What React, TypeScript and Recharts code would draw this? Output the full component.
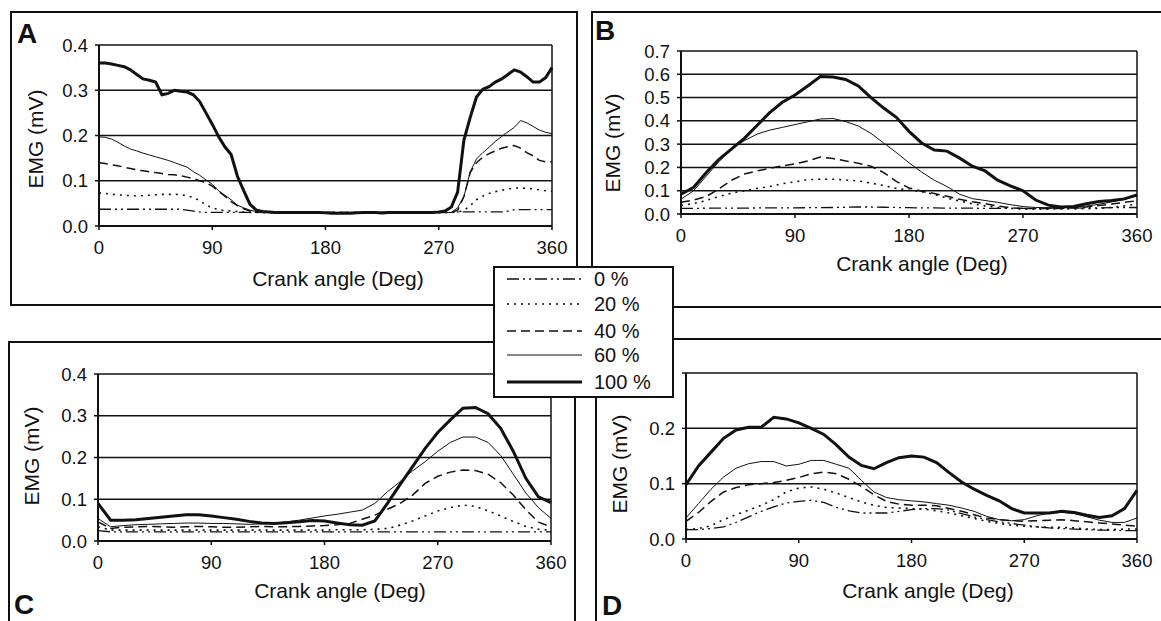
import React from "react";
import { LineChart, Line, XAxis, YAxis, CartesianGrid, ReferenceLine } from "recharts";

// crank angle categories (deg)
const anglesA = [
  0, 5, 10, 15, 20, 25, 30, 35, 40, 45, 50, 55, 60, 65, 70, 75, 80, 85, 90, 95, 100, 105, 110, 115, 120,
  125, 130, 135, 140, 145, 150, 155, 160, 165, 170, 175, 180, 185, 190, 195, 200, 205, 210, 215, 220, 225,
  230, 235, 240, 245, 250, 255, 260, 265, 270, 275, 280, 285, 290, 295, 300, 305, 310, 315, 320, 325, 330,
  335, 340, 345, 350, 355, 360,
];
const angles = [
  0, 10, 20, 30, 40, 50, 60, 70, 80, 90, 100, 110, 120, 130, 140, 150, 160, 170, 180, 190, 200, 210, 220,
  230, 240, 250, 260, 270, 280, 290, 300, 310, 320, 330, 340, 350, 360,
];
const xTicks = [0, 90, 180, 270, 360];

const loadNames = ["0 %", "20 %", "40 %", "60 %", "100 %"];
const loadKeys = ["l0", "l20", "l40", "l60", "l100"];

// panel A (EMG, mV)
const a0 = [
  0.037, 0.037, 0.037, 0.037, 0.037, 0.037, 0.037, 0.037, 0.037, 0.037, 0.037, 0.037, 0.037, 0.037, 0.035,
  0.033, 0.031, 0.03, 0.03, 0.03, 0.03, 0.03, 0.03, 0.03, 0.03, 0.03, 0.03, 0.03, 0.03, 0.03, 0.03, 0.03,
  0.03, 0.03, 0.03, 0.03, 0.03, 0.03, 0.03, 0.03, 0.03, 0.03, 0.03, 0.03, 0.03, 0.03, 0.03, 0.03, 0.03,
  0.03, 0.03, 0.03, 0.03, 0.03, 0.03, 0.03, 0.03, 0.031, 0.031, 0.031, 0.031, 0.031, 0.031, 0.031, 0.031,
  0.033, 0.036, 0.036, 0.036, 0.036, 0.036, 0.036, 0.036,
];
const a20 = [
  0.073, 0.072, 0.07, 0.069, 0.068, 0.067, 0.067, 0.067, 0.068, 0.069, 0.07, 0.07, 0.07, 0.069, 0.067,
  0.063, 0.056, 0.047, 0.04, 0.036, 0.034, 0.033, 0.032, 0.031, 0.03, 0.03, 0.03, 0.03, 0.03, 0.03, 0.03,
  0.03, 0.03, 0.03, 0.03, 0.03, 0.03, 0.03, 0.03, 0.03, 0.03, 0.03, 0.03, 0.03, 0.03, 0.03, 0.03, 0.03,
  0.03, 0.03, 0.03, 0.03, 0.03, 0.03, 0.03, 0.03, 0.03, 0.031, 0.034, 0.045, 0.058, 0.066, 0.072, 0.076,
  0.079, 0.082, 0.084, 0.084, 0.083, 0.082, 0.08, 0.078, 0.077,
];
const a40 = [
  0.14, 0.138, 0.135, 0.133, 0.13, 0.127, 0.124, 0.122, 0.12, 0.118, 0.116, 0.114, 0.113, 0.111, 0.108,
  0.105, 0.1, 0.096, 0.088, 0.077, 0.066, 0.054, 0.045, 0.038, 0.033, 0.031, 0.03, 0.03, 0.03, 0.03, 0.03,
  0.03, 0.03, 0.03, 0.03, 0.03, 0.03, 0.03, 0.03, 0.03, 0.03, 0.03, 0.03, 0.03, 0.03, 0.03, 0.03, 0.03,
  0.03, 0.03, 0.03, 0.03, 0.03, 0.03, 0.03, 0.03, 0.03, 0.035, 0.065, 0.118, 0.14, 0.152, 0.16, 0.166,
  0.172, 0.175, 0.178, 0.172, 0.162, 0.155, 0.145, 0.142, 0.142,
];
const a60 = [
  0.197, 0.196, 0.192, 0.185, 0.177, 0.17, 0.166, 0.161, 0.157, 0.153, 0.149, 0.145, 0.14, 0.135, 0.13,
  0.12, 0.112, 0.102, 0.092, 0.078, 0.068, 0.058, 0.046, 0.04, 0.035, 0.032, 0.03, 0.03, 0.03, 0.03, 0.03,
  0.03, 0.03, 0.03, 0.03, 0.03, 0.03, 0.03, 0.03, 0.03, 0.03, 0.03, 0.03, 0.03, 0.03, 0.03, 0.03, 0.03,
  0.03, 0.03, 0.03, 0.03, 0.03, 0.03, 0.03, 0.03, 0.03, 0.04, 0.065, 0.12, 0.148, 0.162, 0.174, 0.187,
  0.198, 0.208, 0.218, 0.233, 0.228, 0.22, 0.212, 0.207, 0.204,
];
const a100 = [
  0.36, 0.36, 0.358, 0.355, 0.352, 0.345, 0.335, 0.325, 0.322, 0.318, 0.29, 0.293, 0.3, 0.298, 0.296, 0.29,
  0.275, 0.25, 0.225, 0.198, 0.175, 0.158, 0.11, 0.078, 0.048, 0.035, 0.032, 0.031, 0.03, 0.03, 0.03, 0.03,
  0.03, 0.03, 0.03, 0.03, 0.029, 0.028, 0.028, 0.028, 0.028, 0.029, 0.03, 0.03, 0.03, 0.029, 0.03, 0.03,
  0.03, 0.03, 0.03, 0.03, 0.03, 0.03, 0.031, 0.033, 0.042, 0.075, 0.19, 0.24, 0.285, 0.302, 0.308, 0.318,
  0.325, 0.335, 0.345, 0.34, 0.33, 0.318, 0.318, 0.328, 0.35,
];

// panel B
const b0 = [
  0.024, 0.024, 0.025, 0.025, 0.025, 0.025, 0.026, 0.026, 0.026, 0.026, 0.027, 0.027, 0.028, 0.029, 0.03,
  0.03, 0.029, 0.028, 0.027, 0.026, 0.026, 0.025, 0.025, 0.025, 0.024, 0.024, 0.024, 0.024, 0.024, 0.025,
  0.025, 0.025, 0.026, 0.026, 0.027, 0.028, 0.028,
];
const b20 = [
  0.036, 0.045, 0.058, 0.075, 0.09, 0.1, 0.11, 0.118, 0.13, 0.138, 0.147, 0.15, 0.149, 0.146, 0.142, 0.133,
  0.122, 0.11, 0.102, 0.096, 0.084, 0.068, 0.056, 0.044, 0.035, 0.028, 0.024, 0.021, 0.021, 0.021, 0.022,
  0.022, 0.023, 0.024, 0.028, 0.035, 0.043,
];
const b40 = [
  0.05, 0.06, 0.075, 0.108, 0.145, 0.172, 0.185, 0.196, 0.207, 0.215, 0.228, 0.245, 0.238, 0.228, 0.218,
  0.205, 0.178, 0.14, 0.112, 0.098, 0.088, 0.076, 0.063, 0.053, 0.045, 0.034, 0.027, 0.024, 0.024, 0.024,
  0.024, 0.026, 0.03, 0.036, 0.043, 0.05, 0.057,
];
const b60 = [
  0.064, 0.1, 0.163, 0.225, 0.28, 0.315, 0.343, 0.36, 0.372, 0.384, 0.396, 0.408, 0.41, 0.397, 0.378, 0.346,
  0.305, 0.264, 0.22, 0.18, 0.145, 0.118, 0.085, 0.066, 0.058, 0.05, 0.04, 0.032, 0.028, 0.027, 0.028, 0.03,
  0.034, 0.042, 0.052, 0.062, 0.078,
];
const b100 = [
  0.085, 0.115, 0.178, 0.235, 0.28, 0.325, 0.38, 0.435, 0.48, 0.511, 0.55, 0.59, 0.588, 0.578, 0.55, 0.5,
  0.455, 0.415, 0.355, 0.305, 0.275, 0.27, 0.24, 0.205, 0.185, 0.145, 0.121, 0.1, 0.06, 0.038, 0.03, 0.032,
  0.044, 0.054, 0.058, 0.065, 0.082,
];

// panel C
const c0 = [
  0.025, 0.022, 0.022, 0.022, 0.022, 0.022, 0.022, 0.022, 0.022, 0.022, 0.022, 0.022, 0.022, 0.022, 0.022,
  0.022, 0.022, 0.022, 0.022, 0.022, 0.022, 0.022, 0.022, 0.022, 0.022, 0.022, 0.022, 0.022, 0.022, 0.022,
  0.022, 0.022, 0.022, 0.022, 0.022, 0.022, 0.022,
];
const c20 = [
  0.034, 0.026, 0.026, 0.026, 0.026, 0.026, 0.026, 0.026, 0.026, 0.026, 0.026, 0.026, 0.026, 0.026, 0.026,
  0.026, 0.026, 0.026, 0.026, 0.027, 0.027, 0.027, 0.028, 0.03, 0.038, 0.048, 0.06, 0.072, 0.08, 0.086,
  0.083, 0.072, 0.06, 0.047, 0.035, 0.028, 0.026,
];
const c40 = [
  0.046, 0.03, 0.033, 0.034, 0.035, 0.034, 0.033, 0.034, 0.035, 0.034, 0.033, 0.033, 0.034, 0.035, 0.034,
  0.034, 0.035, 0.036, 0.037, 0.039, 0.042, 0.052, 0.062, 0.076, 0.09, 0.11, 0.138, 0.155, 0.165, 0.17,
  0.169, 0.16, 0.14, 0.11, 0.075, 0.045, 0.034,
];
const c60 = [
  0.054, 0.034, 0.037, 0.039, 0.04, 0.041, 0.042, 0.043, 0.043, 0.042, 0.042, 0.041, 0.04, 0.041, 0.043,
  0.046, 0.05, 0.055, 0.06, 0.064, 0.069, 0.074, 0.09, 0.118, 0.142, 0.168, 0.19, 0.215, 0.236, 0.249,
  0.249, 0.236, 0.205, 0.16, 0.115, 0.08, 0.054,
];
const c100 = [
  0.09, 0.05, 0.05, 0.051, 0.054, 0.057, 0.06, 0.063, 0.063, 0.06, 0.056, 0.052, 0.047, 0.043, 0.042,
  0.044, 0.046, 0.049, 0.048, 0.043, 0.039, 0.038, 0.048, 0.09, 0.135, 0.178, 0.222, 0.26, 0.29, 0.318,
  0.32, 0.305, 0.27, 0.215, 0.15, 0.106, 0.092,
];

// panel D
const d0 = [
  0.017, 0.017, 0.019, 0.022, 0.03, 0.04, 0.05, 0.058, 0.065, 0.068, 0.07, 0.066, 0.057, 0.051, 0.047,
  0.047, 0.047, 0.05, 0.053, 0.055, 0.055, 0.052, 0.046, 0.04, 0.035, 0.031, 0.028, 0.025, 0.022, 0.02,
  0.019, 0.018, 0.017, 0.016, 0.016, 0.015, 0.015,
];
const d20 = [
  0.017, 0.019, 0.024, 0.035, 0.044, 0.052, 0.061, 0.071, 0.085, 0.092, 0.094, 0.09, 0.083, 0.075, 0.067,
  0.061, 0.057, 0.056, 0.055, 0.054, 0.051, 0.047, 0.042, 0.037, 0.032, 0.028, 0.025, 0.023, 0.022, 0.021,
  0.021, 0.02, 0.018, 0.017, 0.017, 0.018, 0.018,
];
const d40 = [
  0.032, 0.048, 0.068, 0.085, 0.093, 0.098, 0.1, 0.102, 0.106, 0.111, 0.118, 0.121, 0.118, 0.108, 0.095,
  0.08, 0.068, 0.063, 0.061, 0.061, 0.06, 0.055, 0.05, 0.044, 0.038, 0.035, 0.033, 0.032, 0.033, 0.034,
  0.035, 0.033, 0.031, 0.029, 0.027, 0.025, 0.023,
];
const d60 = [
  0.038, 0.064, 0.09, 0.112, 0.128, 0.136, 0.14, 0.14, 0.132, 0.135, 0.142, 0.142, 0.135, 0.128, 0.106,
  0.085, 0.075, 0.071, 0.069, 0.067, 0.064, 0.061, 0.056, 0.05, 0.041, 0.035, 0.033, 0.035, 0.042, 0.047,
  0.048, 0.046, 0.04, 0.034, 0.03, 0.03, 0.038,
];
const d100 = [
  0.098, 0.132, 0.157, 0.182, 0.197, 0.202, 0.202, 0.22, 0.217, 0.21, 0.2, 0.189, 0.17, 0.148, 0.133, 0.127,
  0.138, 0.147, 0.15, 0.148, 0.138, 0.12, 0.103, 0.09, 0.079, 0.069, 0.055, 0.047, 0.047, 0.047, 0.05,
  0.048, 0.043, 0.039, 0.042, 0.055, 0.088,
];

const INK = "#111";
const FONT = "'Liberation Sans', Arial, Helvetica, sans-serif";

const lineStyle: Record<string, { dash?: string; width: number }> = {
  l0: { dash: "12 4 2 4 2 4", width: 1.3 },
  l20: { dash: "2 5", width: 1.6 },
  l40: { dash: "9 5", width: 1.5 },
  l60: { width: 1 },
  l100: { width: 3 },
};

function buildRows(xs: number[], series: number[][]) {
  return xs.map((angle, i) => {
    const row: Record<string, number> = { angle };
    loadKeys.forEach((k, j) => {
      row[k] = series[j][i];
    });
    return row;
  });
}

type PanelProps = {
  data: Record<string, number>[];
  left: number;
  top: number;
  width: number;
  height: number;
  marginTop: number;
  marginRight: number;
  yAxisWidth: number;
  xAxisHeight: number;
  yMax: number;
  yTicks: number[];
  hideTopLabel?: boolean;
};

function Panel(p: PanelProps) {
  return (
    <div style={{ position: "absolute", left: p.left, top: p.top }}>
      <LineChart
        width={p.width}
        height={p.height}
        data={p.data}
        margin={{ top: p.marginTop, right: p.marginRight, left: 0, bottom: 0 }}
      >
        <CartesianGrid vertical={false} stroke={INK} strokeWidth={1.5} />
        <XAxis
          dataKey="angle"
          type="number"
          domain={[0, 360]}
          ticks={xTicks}
          height={p.xAxisHeight}
          tickSize={4}
          tickMargin={11}
          axisLine={{ stroke: INK, strokeWidth: 2 }}
          tickLine={{ stroke: INK, strokeWidth: 1.5 }}
          tick={{ fill: INK, fontSize: 18.5, fontFamily: FONT }}
        />
        <YAxis
          type="number"
          domain={[0, p.yMax]}
          ticks={p.yTicks}
          interval={0}
          width={p.yAxisWidth}
          tickSize={4}
          tickMargin={7}
          axisLine={{ stroke: INK, strokeWidth: 2 }}
          tickLine={{ stroke: INK, strokeWidth: 1.5 }}
          tick={{ fill: INK, fontSize: 18.5, fontFamily: FONT }}
          tickFormatter={(v: number) => (p.hideTopLabel && v >= p.yMax ? "" : v.toFixed(1))}
        />
        <ReferenceLine x={360} stroke={INK} strokeWidth={1.5} />
        {loadKeys.map((k) => (
          <Line
            key={k}
            type="linear"
            dataKey={k}
            stroke={INK}
            strokeWidth={lineStyle[k].width}
            strokeDasharray={lineStyle[k].dash}
            dot={false}
            isAnimationActive={false}
          />
        ))}
      </LineChart>
    </div>
  );
}

const boxStyle = (left: number, top: number, width: number, height: number): React.CSSProperties => ({
  position: "absolute",
  left,
  top,
  width,
  height,
  border: `2px solid ${INK}`,
  boxSizing: "border-box",
});

const letters = [
  { t: "A", x: 17, y: 43 },
  { t: "B", x: 595, y: 40 },
  { t: "C", x: 14, y: 614 },
  { t: "D", x: 602, y: 615 },
];
const yTitles = [
  { x: 36, y: 139 },
  { x: 613, y: 143 },
  { x: 32, y: 456 },
  { x: 620, y: 464 },
];
const xTitles = [
  { x: 338, y: 286 },
  { x: 922, y: 271 },
  { x: 340, y: 598 },
  { x: 928, y: 598 },
];
const legendRows = [279, 304, 331, 355, 382];

export default function App() {
  const dataA = buildRows(anglesA, [a0, a20, a40, a60, a100]);
  const dataB = buildRows(angles, [b0, b20, b40, b60, b100]);
  const dataC = buildRows(angles, [c0, c20, c40, c60, c100]);
  const dataD = buildRows(angles, [d0, d20, d40, d60, d100]);

  return (
    <div
      style={{
        position: "absolute",
        left: 0,
        top: 0,
        width: 1161,
        height: 621,
        overflow: "hidden",
        background: "#fff",
        fontFamily: FONT,
      }}
    >
      <div style={boxStyle(10, 11, 568, 295)} />
      <div style={boxStyle(591, 11, 580, 297)} />
      <div style={boxStyle(8, 341, 568, 300)} />
      <div style={boxStyle(595, 338, 580, 300)} />

      <Panel data={dataA} left={0} top={0} width={580} height={310} marginTop={45} marginRight={28}
        yAxisWidth={99} xAxisHeight={84} yMax={0.4} yTicks={[0, 0.1, 0.2, 0.3, 0.4]} />
      <Panel data={dataB} left={590} top={0} width={571} height={310} marginTop={51} marginRight={24}
        yAxisWidth={91} xAxisHeight={96} yMax={0.7} yTicks={[0, 0.1, 0.2, 0.3, 0.4, 0.5, 0.6, 0.7]} />
      <Panel data={dataC} left={0} top={330} width={580} height={291} marginTop={44} marginRight={29}
        yAxisWidth={98} xAxisHeight={80} yMax={0.4} yTicks={[0, 0.1, 0.2, 0.3, 0.4]} />
      <Panel data={dataD} left={590} top={330} width={571} height={291} marginTop={43} marginRight={24}
        yAxisWidth={96} xAxisHeight={82} yMax={0.3} yTicks={[0, 0.1, 0.2, 0.3]} hideTopLabel />

      <svg width={1161} height={621} style={{ position: "absolute", left: 0, top: 0, pointerEvents: "none" }}>
        {letters.map((l) => (
          <text key={l.t} x={l.x} y={l.y} fontSize={28} fontWeight="bold" fontFamily={FONT} fill={INK}>
            {l.t}
          </text>
        ))}
        {yTitles.map((t, i) => (
          <text key={"y" + i} x={t.x} y={t.y} dy={7} transform={`rotate(-90 ${t.x} ${t.y})`}
            textAnchor="middle" fontSize={21} fontFamily={FONT} fill={INK}>
            EMG (mV)
          </text>
        ))}
        {xTitles.map((t, i) => (
          <text key={"x" + i} x={t.x} y={t.y} textAnchor="middle" fontSize={21} fontFamily={FONT} fill={INK}>
            Crank angle (Deg)
          </text>
        ))}

        <rect x={494} y={267} width={179} height={130} fill="#fff" stroke={INK} strokeWidth={2} />
        {loadKeys.map((k, i) => (
          <g key={k}>
            <line x1={507} x2={582} y1={legendRows[i]} y2={legendRows[i]} stroke={INK}
              strokeWidth={lineStyle[k].width} strokeDasharray={lineStyle[k].dash} />
            <text x={594} y={legendRows[i] + 7} fontSize={20} fontFamily={FONT} fill={INK}>
              {loadNames[i]}
            </text>
          </g>
        ))}
      </svg>
    </div>
  );
}
